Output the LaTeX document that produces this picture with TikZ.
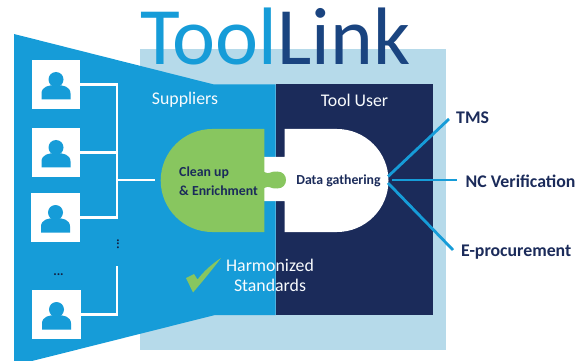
\documentclass[tikz,border=0pt]{standalone}
\usepackage{fontspec}
\setmainfont{Carlito}
\usetikzlibrary{calc}
\definecolor{sky}{HTML}{169CD8}
\definecolor{navy}{HTML}{1B2B5A}
\definecolor{pale}{HTML}{B6DAEA}
\definecolor{leaf}{HTML}{88C65F}
\definecolor{linkblue}{HTML}{1A4480}
\tikzset{
  personbox/.style={fill=white,draw=none,minimum width=48.5pt,minimum height=48.5pt,inner sep=0pt},
  wire/.style={draw=white,line width=2.2pt},
  ray/.style={draw=sky,line width=2.8pt},
  lab/.style={inner sep=0pt,font=\fontsize{17.8}{20}\selectfont,text=white!90!pale},
  targetlab/.style={inner sep=0pt,font=\fontsize{17.8}{18}\selectfont\bfseries,text=navy,anchor=west},
  smalllab/.style={inner sep=0pt,font=\fontsize{13.8}{19}\selectfont\bfseries,text=navy},
  titlelab/.style={inner sep=0pt,anchor=base west,font=\fontsize{81.5}{84}\selectfont},
  dotlab/.style={inner sep=0pt,text=navy!70!black,font=\fontsize{13}{13}\selectfont\bfseries}
}
\newcommand{\personicon}[1]{%
  \fill[sky] ($(#1)+(0,-5)$) circle (7.5pt);
  \fill[sky] ($(#1)+(-14.5,15)$) -- ++(0,-6) .. controls ++(0,-7) and ++(-7,0) .. ++(14.5,-8.5)
     .. controls ++(7,0) and ++(0,-7) .. ++(14.5,8.5) -- ++(0,6) -- cycle;
}
\begin{document}
\begin{tikzpicture}[x=1pt,y=-1pt]
\useasboundingbox (0,0) rectangle (582,361);
% panels
\fill[pale] (140,49.5) rectangle (446,350);
\fill[navy] (275.5,84.5) rectangle (433,315);
\fill[sky] (14,34) -- (214,84.5) -- (275.5,84.5) -- (275.5,315) -- (215,315) -- (32,361) -- (14,361) -- cycle;
% title
\node[titlelab,text=sky] (tool) at (140,65) {Tool};
\node[titlelab,text=linkblue] (linkw) at (tool.base east) {Link};
% white puzzle piece
\fill[white] (264,157) -- (284.7,157) -- (284.7,129) -- (337,129)
  .. controls (365.4,129) and (388.5,152.1) .. (388.5,180.5)
  .. controls (388.5,208.9) and (365.4,232) .. (337,232)
  -- (284.7,232) -- (284.7,201) -- (264,201) -- cycle;
% green puzzle piece
\fill[leaf] (264.3,129) -- (264.3,232) -- (212.2,232)
  .. controls (183.8,232) and (160.7,208.9) .. (160.7,180.5)
  .. controls (160.7,152.1) and (183.8,129) .. (212.2,129) -- cycle;
\fill[leaf] (264,172) .. controls (270,175) and (270,171) .. (277,171.5)
  .. controls (283,171.5) and (286,175.5) .. (286,180)
  .. controls (286,184.5) and (283,188.5) .. (277,188.5)
  .. controls (270,189) and (270,185) .. (264,188) -- cycle;
% people
\node[personbox] (p1) at (56,84.5) {};
\node[personbox] (p2) at (56,152.5) {};
\node[personbox] (p3) at (55.5,217.5) {};
\node[personbox] (p4) at (56.5,314.5) {};
\personicon{p1}\personicon{p2}\personicon{p3}\personicon{p4}
% junctions
\coordinate (bus1) at (117,84.5);
\coordinate (bus2) at (117,152.5);
\coordinate (bus3) at (117,217.5);
\coordinate (bus4) at (117,314.5);
\coordinate (busend) at (117,266);
\coordinate (busmid) at (117,180);
\coordinate (feed) at (155,180);
\draw[wire,line join=miter] (p1.east) -- (bus1) -- (bus3) -- (p3.east);
\draw[wire] (p2.east) -- (bus2);
\draw[wire] (busmid) -- (feed);
\draw[wire] (p4.east) -- (bus4) -- (busend);
% dots
\node[dotlab] (vd) at (118,244) {\rotatebox{90}{...}};
\node[dotlab] (hd) at (58.5,275) {...};
% labels
\node[lab] (sup) at (185,100) {Suppliers};
\node[lab] (usr) at (354.5,100) {Tool User};
\node[lab,align=center] (harm) at (270,275.5) {Harmonized\\Standards};
\node[smalllab,align=left,anchor=west] (clean) at (179,181.5) {Clean up\\\& Enrichment};
\node[smalllab] (data) at (338.5,181) {Data gathering};
% targets
\node[targetlab] (tms) at (456,118) {TMS};
\node[targetlab] (nc) at (465.5,181) {NC Verification};
\node[targetlab] (ep) at (461,252) {E-procurement};
\coordinate (hub1) at (388,176.5);
\coordinate (hub2) at (392,180);
\coordinate (hub3) at (388,183);
\draw[ray] (hub1) -- ($(tms.west)+(-7,1)$);
\draw[ray] (hub2) -- ($(nc.west)+(-8.5,-1)$);
\draw[ray] (hub3) -- ($(ep.west)+(-8,-2)$);
% check mark
\fill[leaf] (186,278) -- (194,274) -- (197.5,279.5)
  .. controls (204,271) and (212,264) .. (221,258)
  .. controls (212,270) and (202,282) .. (193,292.5) -- cycle;
\end{tikzpicture}
\end{document}
